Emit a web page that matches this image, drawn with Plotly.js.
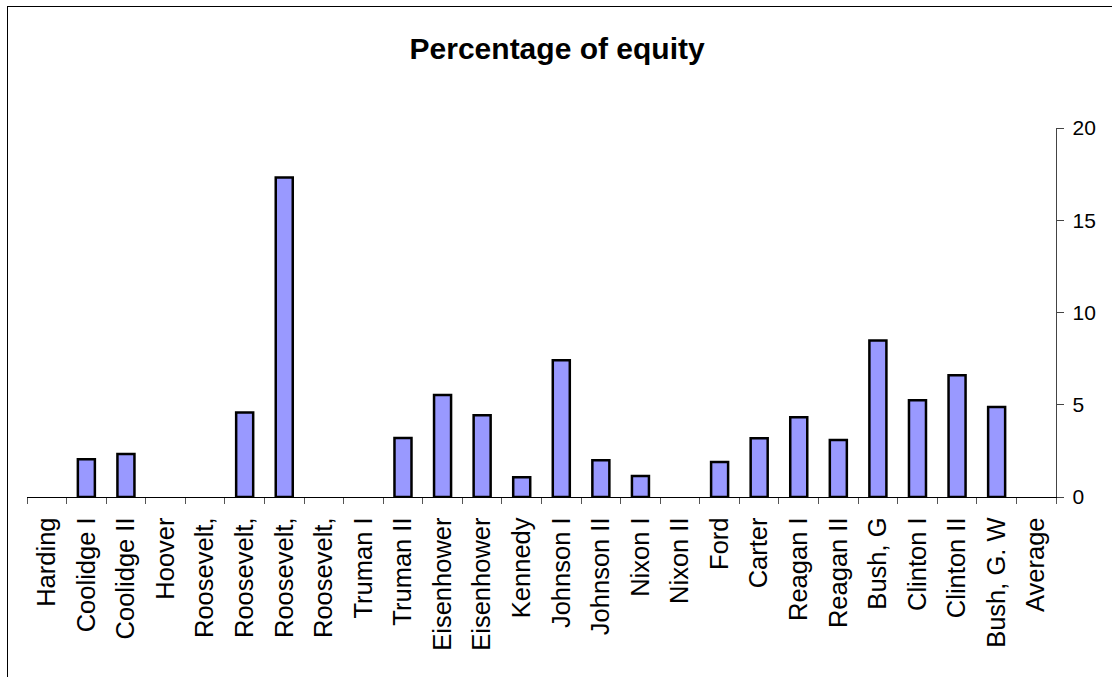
<!DOCTYPE html>
<html>
<head>
<meta charset="utf-8">
<script src="https://cdn.plot.ly/plotly-3.0.1.min.js"></script>
<style>
html,body{margin:0;padding:0;background:#fff;overflow:hidden;}
#wrap{position:relative;width:1112px;height:677px;overflow:hidden;}
#chart{position:absolute;left:0;top:0;width:1112px;height:677px;}
#frame{position:absolute;left:7px;top:6px;width:1200px;height:800px;border:1px solid #000;pointer-events:none;}
</style>
</head>
<body>
<div id="wrap"><div id="chart"></div><div id="frame"></div></div>
<script>
const categories = ["Harding","Coolidge I","Coolidge II","Hoover","Roosevelt,","Roosevelt,","Roosevelt,","Roosevelt,","Truman I","Truman II","Eisenhower","Eisenhower","Kennedy","Johnson I","Johnson II","Nixon I","Nixon II","Ford","Carter","Reagan I","Reagan II","Bush, G","Clinton I","Clinton II","Bush, G. W","Average"];
const equity = [null,2.04,2.33,null,null,4.58,17.32,null,null,3.2,5.53,4.43,1.07,7.41,1.99,1.14,null,1.9,3.18,4.32,3.09,8.48,5.25,6.6,4.88,null];
const yTicks = [0,5,10,15,20];

const positions = categories.map((c,i)=>i);
const boundaries = categories.map((c,i)=>i-0.5).concat([categories.length-0.5]);

const trace = {
  type:'bar',
  x: positions,
  y: equity,
  width: 0.43,
  marker:{color:'#9999FF', line:{color:'#000', width:2.5}},
  hoverinfo:'y'
};
const ghost = {
  type:'scatter', mode:'markers', x:[0], y:[null], xaxis:'x2', yaxis:'y', showlegend:false, hoverinfo:'skip'
};

const font = {family:'"Liberation Sans", Arial, sans-serif', color:'#000'};
const layout = {
  width:1112, height:677,
  margin:{l:27, r:56, t:128, b:180},
  paper_bgcolor:'#fff', plot_bgcolor:'#fff',
  showlegend:false,
  bargap:0,
  title:{text:'<b>Percentage of equity</b>', font:Object.assign({},font,{size:30}), x:0.501, xanchor:'center', xref:'container', y:0.929, yanchor:'middle'},
  xaxis:{
    range:[-0.5, categories.length-0.5],
    tickmode:'array', tickvals:positions, ticktext:categories,
    tickangle:-90, ticks:'', showgrid:false, zeroline:false,
    showline:true, linecolor:'#000', linewidth:1.3,
    tickfont:Object.assign({},font,{size:25.5}),
    ticklabelstandoff:9,
    automargin:false
  },
  xaxis2:{
    overlaying:'x', side:'bottom', anchor:'y',
    range:[-0.5, categories.length-0.5],
    tickmode:'array', tickvals:boundaries, ticktext:boundaries.map(()=>''),
    ticks:'outside', ticklen:6, tickwidth:1, tickcolor:'#555',
    showgrid:false, zeroline:false, showline:false, showticklabels:false
  },
  yaxis:{
    range:[0,20], side:'right',
    tickmode:'array', tickvals:yTicks, ticktext:yTicks.map(String),
    ticks:'outside', ticklen:7, tickwidth:1, tickcolor:'#444',
    showline:true, linecolor:'#444', linewidth:1.3,
    showgrid:false, zeroline:false,
    tickfont:Object.assign({},font,{size:21}),
    ticklabelstandoff:4,
    automargin:false
  }
};
Plotly.newPlot('chart',[trace, ghost],layout,{staticPlot:true, displayModeBar:false});
</script>
</body>
</html>
